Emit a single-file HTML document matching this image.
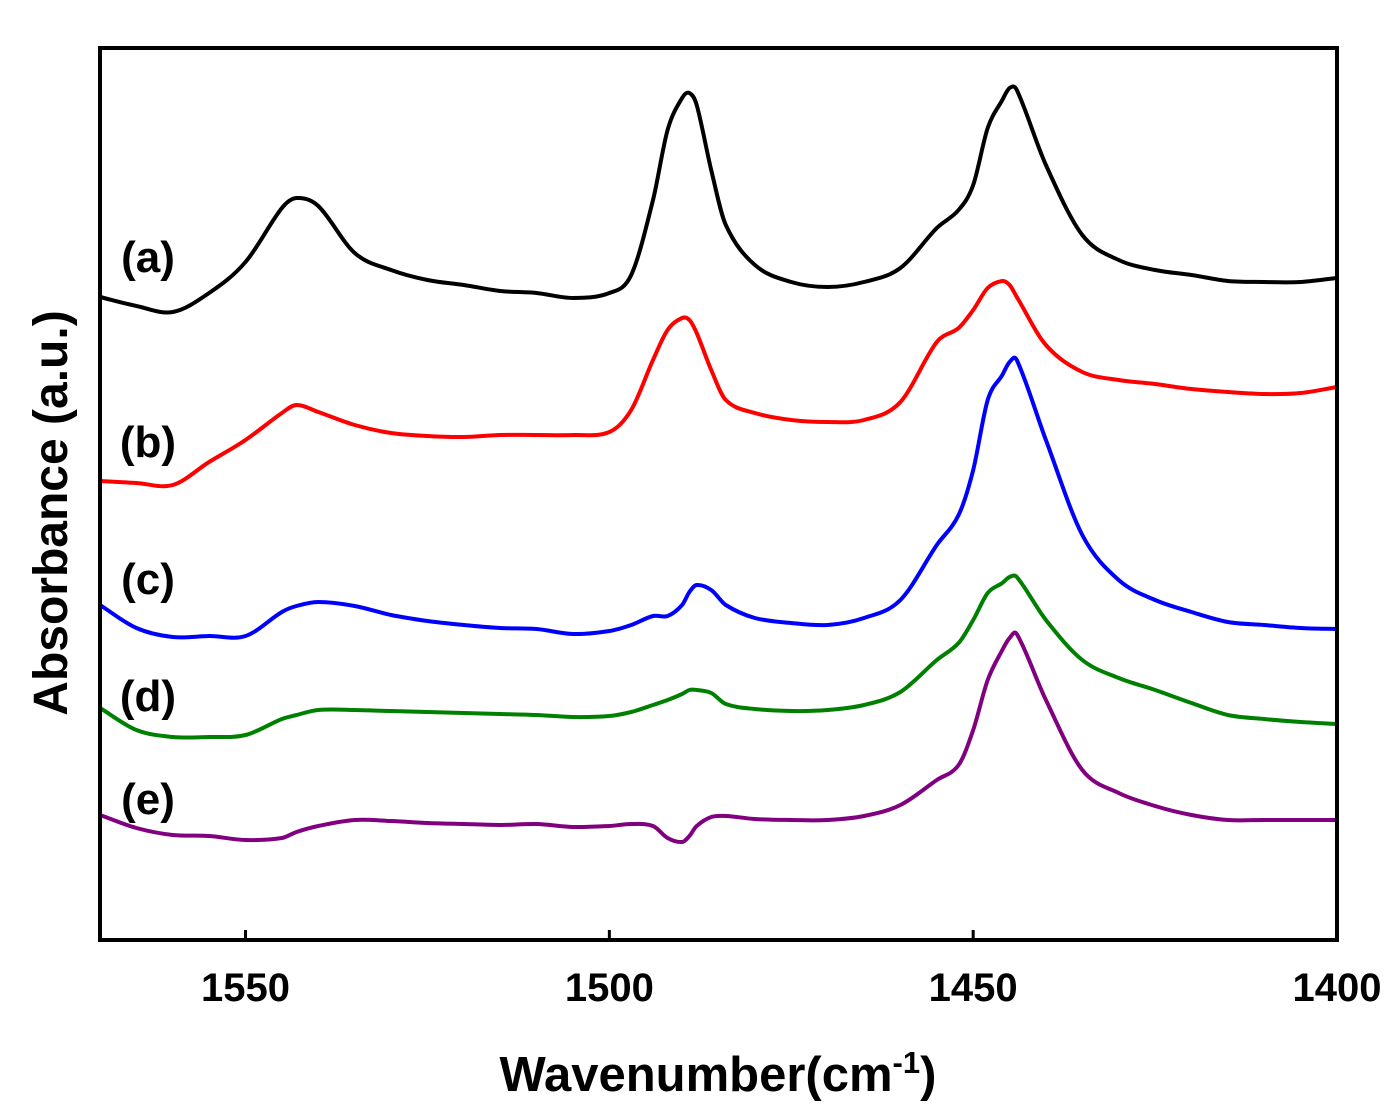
<!DOCTYPE html>
<html><head><meta charset="utf-8">
<style>
html,body{margin:0;padding:0;background:#fff;}
svg{display:block;font-family:"Liberation Sans",Arial,sans-serif;}
</style></head>
<body>
<svg id="chart" width="1400" height="1118" viewBox="0 0 1400 1118" xmlns="http://www.w3.org/2000/svg">
</svg>
<script>
const wavenumbers=[1570,1565,1560,1555,1550,1545,1543,1540,1535,1530,1525,1520,1515,1510,1505,1500,1497,1494,1492,1490,1489,1488,1486,1484,1480,1475,1470,1465,1460,1455,1452,1450,1448,1446,1445,1444,1440,1435,1430,1425,1420,1415,1410,1405,1400];
const pa=[297,306,312,293,262,208,198,206,253,270,280,285,291,293,298,293,275,200,130,98,93,105,170,225,265,282,287,282,268,228,210,185,128,100,88,90,165,235,260,270,275,281,282,282,278];
const pb=[481,483,485,462,440,413,405,412,425,433,436,437,435,435,435,432,410,360,330,318,320,333,370,400,413,420,422,420,402,342,328,310,288,281,285,297,345,372,380,384,389,392,394,393,387];
const pc=[605,628,637,636,636,612,606,602,606,615,621,625,628,629,634,631,625,616,616,605,592,585,590,605,618,623,625,618,600,545,515,470,400,375,362,360,440,535,580,600,612,622,625,628,629];
const pd=[708,730,737,737,735,719,715,710,710,711,712,713,714,715,717,716,712,705,700,694,690,690,693,704,709,711,710,705,692,660,643,620,593,583,577,577,620,660,678,690,703,715,719,722,724];
const pe=[815,828,835,836,840,838,832,826,820,821,823,824,825,824,827,826,824,826,838,842,836,826,817,816,819,820,820,816,805,780,765,730,680,650,638,634,700,770,793,806,815,820,820,820,820];
// absorbance (arbitrary units) = 940 - pixel reading
const seriesA=pa.map(v=>940-v), seriesB=pb.map(v=>940-v), seriesC=pc.map(v=>940-v), seriesD=pd.map(v=>940-v), seriesE=pe.map(v=>940-v);
const seriesNames=["(a)","(b)","(c)","(d)","(e)"];
const xTicks=[1550,1500,1450,1400];

const L=100,R=1337,T=48,B=940;
const xMin=1570,xMax=1400;
function X(w){return L+(xMin-w)/(xMin-xMax)*(R-L);}
function Y(v){return B-v;}
const NS="http://www.w3.org/2000/svg";
const svg=document.getElementById('chart');
function mk(t,a){const e=document.createElementNS(NS,t);for(const k in a)e.setAttribute(k,a[k]);svg.appendChild(e);return e;}

const colors=["#000000","#ff0000","#0000ff","#008000","#800080"];
const all=[seriesA,seriesB,seriesC,seriesD,seriesE];
const names=["series-a-line","series-b-line","series-c-line","series-d-line","series-e-line"];
all.forEach((s,i)=>{
  const p=wavenumbers.map((w,j)=>[X(w),Y(s[j])]);
  const n=p.length;
  const m=p.map((q,j)=>{
    const a=p[Math.max(0,j-1)],b=p[Math.min(n-1,j+1)];
    return (b[1]-a[1])/(b[0]-a[0]);
  });
  let d="M"+p[0][0].toFixed(1)+","+p[0][1].toFixed(1);
  for(let j=0;j<n-1;j++){
    const h=(p[j+1][0]-p[j][0])/3;
    d+=" C"+(p[j][0]+h).toFixed(1)+","+(p[j][1]+m[j]*h).toFixed(1)+" "+(p[j+1][0]-h).toFixed(1)+","+(p[j+1][1]-m[j+1]*h).toFixed(1)+" "+p[j+1][0].toFixed(1)+","+p[j+1][1].toFixed(1);
  }
  const el=mk('path',{d:d,fill:'none',stroke:colors[i],'stroke-width':4,'stroke-linejoin':'round'});
  
  
});

const frame=mk('rect',{x:L,y:T,width:R-L,height:B-T,fill:'none',stroke:'#000','stroke-width':4});



xTicks.forEach(t=>{
  const ln=mk('line',{x1:X(t),x2:X(t),y1:B,y2:B-10,stroke:'#000','stroke-width':3});
  
  
  const tx=mk('text',{x:X(t),y:1001,'text-anchor':'middle','font-size':40,'font-weight':'bold'});
  tx.textContent=t;
  
  
});

const labelY=[272,457,594,711,814];
seriesNames.forEach((n,i)=>{
  const tx=mk('text',{x:148,y:labelY[i],'text-anchor':'middle','font-size':44,'font-weight':'bold'});
  tx.textContent=n;
  
  
});

const xt=mk('text',{x:718,y:1091,'text-anchor':'middle','font-size':49,'font-weight':'bold'});
xt.innerHTML='Wavenumber(cm<tspan dy="-18" font-size="31">-1</tspan><tspan dy="18">)</tspan>';



const yt=mk('text',{x:0,y:0,'text-anchor':'middle','font-size':48,'font-weight':'bold',transform:'translate(67,513) rotate(-90)'});
yt.textContent='Absorbance (a.u.)';


</script>
</body></html>
